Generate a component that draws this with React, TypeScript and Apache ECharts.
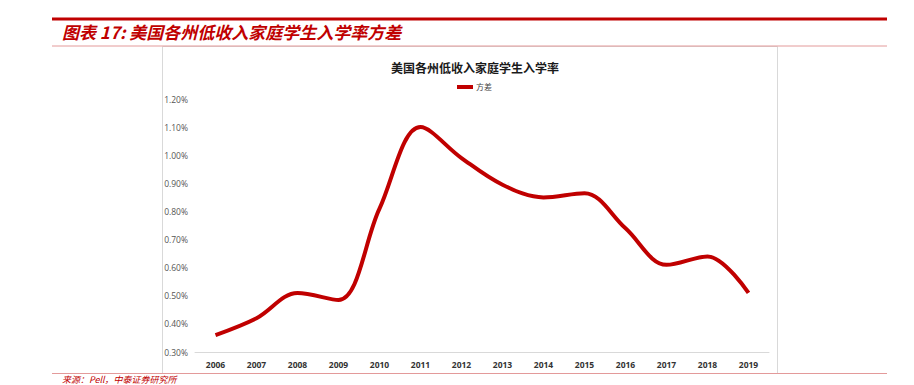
import React, { useEffect, useRef } from "react";
import * as echarts from "echarts";

const years = ["2006","2007","2008","2009","2010","2011","2012","2013","2014","2015","2016","2017","2018","2019"];
const variance = [0.36, 0.42, 0.51, 0.485, 0.81, 1.10, 0.99, 0.895, 0.85, 0.865, 0.74, 0.61, 0.64, 0.51];
const pageTitle = "图表 17: 美国各州低收入家庭学生入学率方差";
const chartTitle = "美国各州低收入家庭学生入学率";
const seriesName = "方差";
const sourceText = "来源：Pell，中泰证券研究所";

export default function App() {
  const ref = useRef<HTMLDivElement>(null);
  useEffect(() => {
    if (!ref.current) return;
    const chart = echarts.init(ref.current, undefined, { renderer: "svg" });
    const red = "#C00000";
    chart.setOption({
      animation: false,
      backgroundColor: "#fff",
      title: {
        text: chartTitle,
        left: 470,
        textAlign: "center",
        top: 56,
        textStyle: { fontSize: 12, fontWeight: "bold", color: "#1a1a1a", fontFamily: "Noto Sans CJK SC" },
      },
      legend: {
        top: 78,
        left: 470 - 18,
        itemWidth: 16,
        itemHeight: 4,
        itemGap: 2,
        icon: "rect",
        textStyle: { fontSize: 8, color: "#444", fontFamily: "Noto Sans CJK SC", padding: [0, 0, 0, -2] },
        data: [seriesName],
      },
      graphic: [
        { type: "rect", shape: { x: 162.5, y: 46.5, width: 615, height: 327 }, style: { fill: "none", stroke: "#D9D9D9", lineWidth: 1 }, silent: true },
        { type: "line", shape: { x1: 52, y1: 19, x2: 887, y2: 19 }, style: { stroke: red, lineWidth: 3 } },
        { type: "line", shape: { x1: 52, y1: 46, x2: 887, y2: 46 }, style: { stroke: "#E39A9A", lineWidth: 1 } },
        { type: "line", shape: { x1: 52, y1: 373.5, x2: 887, y2: 373.5 }, style: { stroke: "#E39A9A", lineWidth: 1 } },
        {
          type: "text", left: 62, top: 23,
          style: { text: pageTitle, fill: red, font: "italic bold 17px 'Noto Sans CJK SC'" },
        },
        {
          type: "text", left: 62, top: 375,
          style: { text: sourceText, fill: red, font: "italic 9px 'Noto Sans CJK SC'" },
        },
      ],
      grid: { left: 195, right: 145, top: 99, bottom: 33 },
      xAxis: {
        type: "category",
        data: years,
        boundaryGap: true,
        axisLine: { lineStyle: { color: "#D9D9D9" } },
        axisTick: { show: false },
        axisLabel: { fontSize: 8.5, fontWeight: "bold", color: "#333", margin: 8, fontFamily: "Open Sans" },
      },
      yAxis: {
        type: "value",
        min: 0.3,
        max: 1.2,
        interval: 0.1,
        splitLine: { show: false },
        axisLine: { show: false },
        axisTick: { show: false },
        axisLabel: {
          fontSize: 8.5, color: "#555", margin: 7, fontFamily: "Open Sans",
          formatter: (v: number) => v.toFixed(2) + "%",
        },
      },
      series: [
        {
          name: seriesName,
          type: "line",
          data: variance,
          smooth: 0.35,
          showSymbol: false,
          symbol: "none",
          lineStyle: { color: red, width: 4 },
          itemStyle: { color: red },
        },
      ],
    });
    return () => chart.dispose();
  }, []);
  return <div ref={ref} style={{ position: "fixed", left: 0, top: 0, width: 914, height: 385 }} />;
}
